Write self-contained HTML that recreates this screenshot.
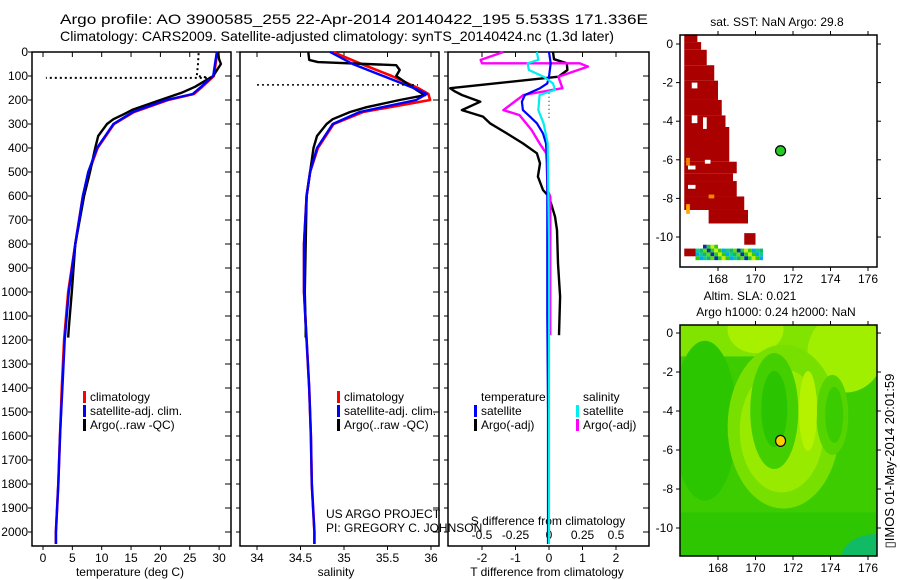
<!DOCTYPE html>
<html><head><meta charset="utf-8"><style>
html,body{margin:0;padding:0;background:#fff;}
svg{display:block;font-family:"Liberation Sans",sans-serif;}
text{fill:#000;}
</style></head><body>
<svg id="chart" width="900" height="580" viewBox="0 0 900 580" xmlns="http://www.w3.org/2000/svg">
<text x="60" y="24" font-size="14" textLength="588" lengthAdjust="spacingAndGlyphs">Argo profile: AO 3900585_255 22-Apr-2014 20140422_195 5.533S 171.336E</text>
<text x="60" y="41" font-size="14" textLength="554" lengthAdjust="spacingAndGlyphs">Climatology: CARS2009. Satellite-adjusted climatology: synTS_20140424.nc (1.3d later)</text>
<g id="maps"></g>
<g id="panels"></g>
<text transform="translate(894,461) rotate(-90)" text-anchor="middle" font-size="13">▯IMOS 01-May-2014 20:01:59</text>
</svg>
<script>
// ---------- data ----------
const depthTicks = [0,100,200,300,400,500,600,700,800,900,1000,1100,1200,1300,1400,1500,1600,1700,1800,1900,2000];
const tempTicks = [0,5,10,15,20,25,30];
const salTicks = [34,34.5,35,35.5,36];
const salTickLabels = ["34","34.5","35","35.5","36"];
const dTTicks = [-2,-1,0,1,2];
const dSTicks = [-0.5,-0.25,0,0.25,0.5];
const dSTickLabels = ["-0.5","-0.25","0","0.25","0.5"];

const climDepth = [0,50,100,150,175,200,250,300,400,500,600,800,1000,1200,1400,1600,1800,2000,2050];
const climTemp  = [29.7,29.4,29.1,26.9,25.7,21.3,15.5,12.1,9.3,7.8,6.8,5.5,4.3,3.6,3.2,2.9,2.6,2.2,2.2];
const satTemp   = [29.6,29.3,29.0,26.7,25.5,21.0,15.3,12.0,9.2,7.7,6.8,5.5,4.4,3.7,3.3,2.9,2.6,2.2,2.2];
const climSal   = [34.87,35.2,35.55,35.85,35.97,35.99,35.22,34.88,34.7,34.61,34.57,34.54,34.54,34.57,34.6,34.62,34.63,34.66,34.66];
const satSal    = [34.84,35.1,35.45,35.8,35.95,35.83,35.18,34.87,34.69,34.61,34.57,34.54,34.54,34.57,34.6,34.62,34.63,34.66,34.66];

const argoDepth = [0,30,50,100,145,170,200,240,260,280,300,350,400,500,600,800,1000,1150,1190];
const argoTemp  = [29.8,30.0,30.3,29.0,25.9,23.6,20.0,15.3,13.7,12.0,10.9,9.4,8.9,8.0,7.0,5.5,4.9,4.4,4.3];
const argoSalDepth = [0,33,42,55,75,100,160,180,200,230,250,280,300,350,400,500,600,1000,1150,1190];
const argoSal      = [34.59,34.6,34.7,35.6,35.64,35.6,35.84,35.93,35.64,35.26,35.07,34.87,34.8,34.69,34.65,34.61,34.57,34.55,34.56,34.56];

const rawDepth = [5,50,100,108,108];
const rawTemp  = [26.5,26.4,26.2,28.5,0.5];
const rawSalDepth = [137,137];
const rawSal      = [34.0,35.85];

const dTDepth = [0,30,47,75,103,151,165,179,207,242,269,297,339,381,422,464,519,575,603,686,742,881,1019,1180];
const dTArgo  = [0.12,0.15,0.53,0.55,0.28,-2.95,-2.8,-2.6,-2.05,-2.6,-1.97,-1.76,-1.26,-0.78,-0.36,-0.27,-0.33,-0.18,0,0.18,0.24,0.27,0.33,0.3];
const dSArgoDepth = [0,33,47,47,61,103,151,179,242,263,325,381,422,575,603,1180];
const dSArgo      = [-0.34,-0.51,-0.5,0.23,0.29,0.07,0.1,-0.19,-0.34,-0.22,-0.13,-0.07,-0.02,-0.01,0.01,0.01];
const dTSatDepth = [0,47,103,131,151,179,207,242,269,297,339,381,464,1100,1500,2050];
const dTSat      = [0,0.05,0,-0.05,-0.27,-0.72,-0.81,-0.78,-0.57,-0.36,-0.18,-0.09,-0.05,-0.05,-0.03,-0.03];
const dSSatDepth = [0,33,47,75,103,131,158,179,242,297,381,800,2050];
const dSSat      = [-0.09,-0.08,-0.16,-0.15,-0.04,0.03,0.045,-0.07,-0.08,-0.04,-0.01,0,0];

const latTicks = [0,-2,-4,-6,-8,-10];
const lonTicks = [168,170,172,174,176];
const argoLon = 171.336, argoLat = -5.533;

// ---------- helpers ----------
const NS = "http://www.w3.org/2000/svg";
const svg = document.getElementById('chart');
const panelsG = document.getElementById('panels');
const mapsG = document.getElementById('maps');
function mk(tag, attrs, parent){const e=document.createElementNS(NS,tag);for(const k in attrs)e.setAttribute(k,attrs[k]);(parent||panelsG).appendChild(e);return e;}
function txt(s,x,y,attrs,parent){const e=mk('text',Object.assign({x:x,y:y,'font-size':12},attrs||{}),parent);e.textContent=s;return e;}

const TOP=52, BOT=546;
const yD = d => TOP + d*0.24;
const xT = t => 43 + t*5.87;
const xS = s => 257 + (s-34)*87;
const xDT = v => 549 + v*33.5;
const xDS = v => 549 + v*134;

function line(xs, ys, xf, color, w, name, dash){
  const pts = xs.map((v,i)=>xf(v).toFixed(1)+','+yD(ys[i]).toFixed(1)).join(' ');
  const p = mk('polyline',{points:pts,fill:'none',stroke:color,'stroke-width':w,'stroke-linejoin':'round'});
  if(dash) p.setAttribute('stroke-dasharray',dash);
  
  
}

const frames=[[32,231,'temperature-panel'],[240,439,'salinity-panel'],[448,649,'difference-panel']];
frames.forEach(f=>{
  const r=mk('rect',{x:f[0],y:TOP,width:f[1]-f[0],height:BOT-TOP,fill:'none',stroke:'#000','stroke-width':1.5});
  
  
  depthTicks.forEach(d=>{
    mk('line',{x1:f[1]-6,x2:f[1],y1:yD(d),y2:yD(d),stroke:'#000','stroke-width':1});
    mk('line',{x1:f[0]-4,x2:f[0],y1:yD(d),y2:yD(d),stroke:'#000','stroke-width':1});
  });
});
depthTicks.forEach(d=>{
  const t=txt(String(d),28,yD(d)+4,{'text-anchor':'end'});
  
  
});
tempTicks.forEach(v=>{
  mk('line',{x1:xT(v),x2:xT(v),y1:TOP,y2:TOP+5,stroke:'#000'});
  mk('line',{x1:xT(v),x2:xT(v),y1:BOT,y2:BOT+4,stroke:'#000'});
  const t=txt(String(v),xT(v),BOT+16,{'text-anchor':'middle'});
  
  
});
salTicks.forEach((v,i)=>{
  mk('line',{x1:xS(v),x2:xS(v),y1:TOP,y2:TOP+5,stroke:'#000'});
  mk('line',{x1:xS(v),x2:xS(v),y1:BOT,y2:BOT+4,stroke:'#000'});
  const t=txt(salTickLabels[i],xS(v),BOT+16,{'text-anchor':'middle'});
  
  
});
dTTicks.forEach(v=>{
  mk('line',{x1:xDT(v),x2:xDT(v),y1:TOP,y2:TOP+5,stroke:'#000'});
  mk('line',{x1:xDT(v),x2:xDT(v),y1:BOT,y2:BOT+4,stroke:'#000'});
  const t=txt(String(v),xDT(v),BOT+16,{'text-anchor':'middle'});
  
  
});
dSTicks.forEach((v,i)=>{
  const t=txt(dSTickLabels[i],xDS(v),539,{'text-anchor':'middle'});
  
  
});
[['temperature (deg C)',130,'temperature-axis-title'],['salinity',336,'salinity-axis-title'],['T difference from climatology',547,'dt-axis-title']].forEach(a=>{
  const t=txt(a[0],a[1],576,{'text-anchor':'middle'});
  
  
});
{const t=txt('S difference from climatology',548,525,{'text-anchor':'middle'});

}
{const t=txt('US ARGO PROJECT',326,518,{});

}
{const t=txt('PI: GREGORY C. JOHNSON',326,532,{});

}

line(climTemp, climDepth, xT, '#ff0000', 2.6, 'climatology-temperature-line');
line(argoTemp, argoDepth, xT, '#000', 2.4, 'argo-temperature-line');
line(satTemp, climDepth, xT, '#0000ff', 2.4, 'satellite-temperature-line');
line(rawTemp, rawDepth, xT, '#000', 2, 'raw-temperature-dotted', '2,3');
line(climSal, climDepth, xS, '#ff0000', 2.6, 'climatology-salinity-line');
line(argoSal, argoSalDepth, xS, '#000', 2.4, 'argo-salinity-line');
line(satSal, climDepth, xS, '#0000ff', 2.4, 'satellite-salinity-line');
line(rawSal, rawSalDepth, xS, '#000', 1.5, 'raw-salinity-dotted', '2,3');
line([0,0],[170,285], xDT, '#000', 1, 'zero-dotted-line', '1,3');
line(dTArgo, dTDepth, xDT, '#000', 2.4, 'argo-dt-line');
line(dSArgo, dSArgoDepth, xDS, '#ff00ff', 2.4, 'argo-ds-line');
line(dTSat, dTSatDepth, xDT, '#0000ff', 2.2, 'satellite-dt-line');
line(dSSat, dSSatDepth, xDS, '#00eeee', 2.2, 'satellite-ds-line');

function leg(x,y,color,label,name){
  mk('rect',{x:x,y:y-10,width:3,height:12,fill:color});
  const t=txt(label,x+7,y,{});
  
  
}
leg(83,401,'#ff0000','climatology','legend-climatology');
leg(83,415,'#0000ff','satellite-adj. clim.','legend-satellite-adj');
leg(83,429,'#000','Argo(..raw -QC)','legend-argo');
leg(337,401,'#ff0000','climatology','legend-climatology-2');
leg(337,415,'#0000ff','satellite-adj. clim.','legend-satellite-adj-2');
leg(337,429,'#000','Argo(..raw -QC)','legend-argo-2');
{const t=txt('temperature',481,401,{});}
{const t=txt('salinity',583,401,{});}
leg(474,415,'#0000ff','satellite','legend-t-satellite');
leg(474,429,'#000','Argo(-adj)','legend-t-argo');
leg(576,415,'#00eeee','satellite','legend-s-satellite');
leg(576,429,'#ff00ff','Argo(-adj)','legend-s-argo');

// ---------- maps ----------
const ML=680, MR=877;
const xL = lon => 718 + (lon-168)*18.75;
const yM1 = lat => 44 - lat*19.3;
const yM2 = lat => 333 - lat*19.5;
function rectLL(lon1,lat1,lon2,lat2,yf,color,name){
  const r=mk('rect',{x:xL(lon1),y:yf(lat1),width:xL(lon2)-xL(lon1),height:yf(lat2)-yf(lat1),fill:color},mapsG);
  
  
}
const red='#aa0000';
[[166.2,0.5,166.9,0.1],[166.2,0.1,167.1,-0.3],[166.2,-0.3,167.4,-1.1],[166.2,-1.1,167.8,-1.9],
 [166.2,-1.9,168.0,-2.9],[166.2,-2.9,168.2,-3.7],[166.2,-3.7,168.4,-4.3],[166.2,-4.3,168.6,-6.1],
 [166.2,-6.1,169.0,-6.7],[166.2,-6.7,168.8,-7.1],[166.2,-7.1,169.0,-7.9],[166.2,-7.9,169.4,-8.6],[167.5,-8.6,169.6,-9.3]].forEach(b=>rectLL(b[0],b[1],b[2],b[3],yM1,red,'sst-patch'));
rectLL(169.4,-9.8,170.0,-10.4,yM1,red,'sst-patch');
rectLL(166.2,-10.6,166.8,-11.0,yM1,red,'sst-patch');
[[166.6,-2.0,166.9,-2.3],[166.6,-3.7,166.9,-4.1],[167.2,-3.8,167.4,-4.4],[167.3,-6.0,167.6,-6.2],[166.4,-6.3,166.8,-6.5],[166.4,-7.3,166.8,-7.5]].forEach(b=>rectLL(b[0],b[1],b[2],b[3],yM1,'#fff','sst-gap'));
rectLL(166.3,-5.9,166.5,-6.3,yM1,'#ee8800','sst-warm-patch');
rectLL(167.5,-7.8,167.8,-8.0,yM1,'#ee8800','sst-warm-patch');
rectLL(166.3,-8.3,166.5,-8.8,yM1,'#ffaa00','sst-warm-patch');
const bandCols=['#11bb66','#22cc33','#00aaee','#66dd00','#ccee00','#11cc88','#0033aa','#33cc00'];
for(let i=0;i<18;i++){for(let j=0;j<4;j++){
  const lon=166.8+i*0.2, lat=-10.4-j*0.2;
  if(lon>170.3||(j==0&&(lon<167.2||lon>167.8)))continue;
  rectLL(lon,lat,lon+0.2,lat-0.2,yM1,bandCols[(i*3+j*5)%8],'sst-band-cell');
}}
// map2: SLA field
const m2clip=mk('clipPath',{id:'m2clip'},mapsG);
mk('rect',{x:ML,y:325,width:MR-ML,height:231},m2clip);
const m2=mk('g',{'clip-path':'url(#m2clip)'},mapsG);


mk('rect',{x:ML,y:325,width:MR-ML,height:231,fill:'#3ccc00'},m2);
mk('rect',{x:ML,y:325,width:MR-ML,height:yM2(-1.2)-325,fill:'#80e400'},m2);
mk('ellipse',{cx:xL(170),cy:yM2(0.2),rx:28,ry:24,fill:'#a6f000'},m2);
mk('ellipse',{cx:xL(174.8),cy:yM2(-1),rx:38,ry:40,fill:'#a0ee00'},m2);
mk('ellipse',{cx:xL(167.3),cy:yM2(-4.5),rx:32,ry:80,fill:'#2cc600'},m2);
mk('ellipse',{cx:xL(171.5),cy:yM2(-4.8),rx:56,ry:82,fill:'#78e000'},m2);
mk('ellipse',{cx:xL(171.4),cy:yM2(-5),rx:42,ry:62,fill:'#98ea00'},m2);
mk('ellipse',{cx:xL(174.1),cy:yM2(-4.2),rx:16,ry:40,fill:'#55d400'},m2);
mk('ellipse',{cx:xL(174.2),cy:yM2(-4.2),rx:9,ry:28,fill:'#3acc00'},m2);
mk('ellipse',{cx:xL(172.8),cy:yM2(-4),rx:9,ry:40,fill:'#b4f200'},m2);
mk('ellipse',{cx:xL(171),cy:yM2(-4),rx:24,ry:58,fill:'#44cf00'},m2);
mk('ellipse',{cx:xL(171),cy:yM2(-3.9),rx:13,ry:38,fill:'#2ac400'},m2);
mk('rect',{x:ML,y:yM2(-9.2),width:MR-ML,height:60,fill:'#2ec600'},m2);
mk('ellipse',{cx:MR,cy:556,rx:35,ry:22,fill:'#11bb66'},m2);

function mapAxes(top,bottom,yf,prefix){
  const f=mk('rect',{x:ML,y:top,width:MR-ML,height:bottom-top,fill:'none',stroke:'#000','stroke-width':1.5},mapsG);
  
  
  latTicks.forEach(l=>{
    mk('line',{x1:ML-4,x2:ML,y1:yf(l),y2:yf(l),stroke:'#000'},mapsG);
    mk('line',{x1:MR,x2:MR+4,y1:yf(l),y2:yf(l),stroke:'#000'},mapsG);
    const t=txt(String(l),673,yf(l)+4,{'text-anchor':'end'},mapsG);
    
    
  });
  lonTicks.forEach(l=>{
    mk('line',{x1:xL(l),x2:xL(l),y1:top-4,y2:top,stroke:'#000'},mapsG);
    mk('line',{x1:xL(l),x2:xL(l),y1:bottom,y2:bottom+4,stroke:'#000'},mapsG);
    const t=txt(String(l),xL(l),bottom+16,{'text-anchor':'middle'},mapsG);
    
    
  });
}
mapAxes(35,267,yM1,'sst-map');
mapAxes(325,556,yM2,'sla-map');
const d1=mk('circle',{cx:xL(argoLon),cy:yM1(argoLat),r:5,fill:'#22cc22',stroke:'#000','stroke-width':1.2},mapsG);


const d2=mk('ellipse',{cx:xL(argoLon),cy:yM2(argoLat),rx:5,ry:5.5,fill:'#ffcc00',stroke:'#000','stroke-width':1.2},mapsG);


{const t=txt('sat. SST: NaN Argo: 29.8',777,26,{'text-anchor':'middle'},mapsG);}
{const t=txt('Altim. SLA: 0.021',750,300,{'text-anchor':'middle'},mapsG);}
{const t=txt('Argo h1000: 0.24 h2000: NaN',776,316,{'text-anchor':'middle'},mapsG);}
</script>
</body></html>
